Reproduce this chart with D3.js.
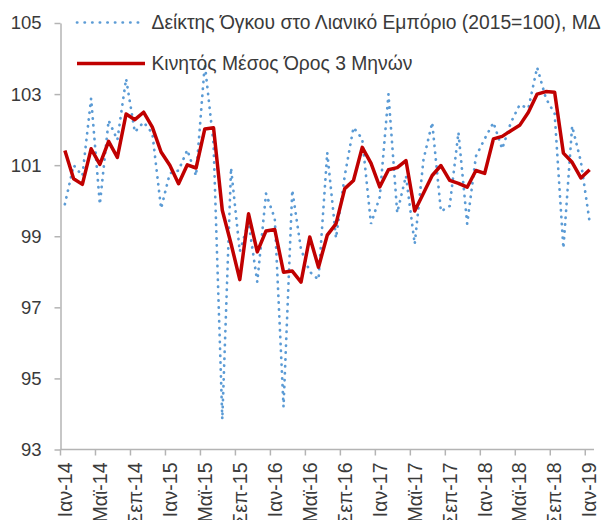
<!DOCTYPE html>
<html>
<head>
<meta charset="utf-8">
<script src="https://cdn.jsdelivr.net/npm/d3@7"></script>
<style>
  body { margin: 0; background: #fff; }
  svg { display: block; font-family: "Liberation Sans", Arial, sans-serif; }
</style>
</head>
<body>
<svg id="svg"></svg>
<script>
// months Jan-14 .. Jan-19
const categories = [
    "Ιαν-14","Φεβ-14","Μαρ-14","Απρ-14","Μαϊ-14","Ιουν-14","Ιουλ-14","Αυγ-14","Σεπ-14","Οκτ-14","Νοε-14","Δεκ-14",
    "Ιαν-15","Φεβ-15","Μαρ-15","Απρ-15","Μαϊ-15","Ιουν-15","Ιουλ-15","Αυγ-15","Σεπ-15","Οκτ-15","Νοε-15","Δεκ-15",
    "Ιαν-16","Φεβ-16","Μαρ-16","Απρ-16","Μαϊ-16","Ιουν-16","Ιουλ-16","Αυγ-16","Σεπ-16","Οκτ-16","Νοε-16","Δεκ-16",
    "Ιαν-17","Φεβ-17","Μαρ-17","Απρ-17","Μαϊ-17","Ιουν-17","Ιουλ-17","Αυγ-17","Σεπ-17","Οκτ-17","Νοε-17","Δεκ-17",
    "Ιαν-18","Φεβ-18","Μαρ-18","Απρ-18","Μαϊ-18","Ιουν-18","Ιουλ-18","Αυγ-18","Σεπ-18","Οκτ-18","Νοε-18","Δεκ-18",
    "Ιαν-19"
];

// Δείκτης Όγκου στο Λιανικό Εμπόριο (2015=100), ΜΔ
const volumeIndex = [
    99.9, 101.0, 100.7, 102.88, 99.9, 102.26, 101.71, 103.43, 101.93, 102.21, 101.9, 99.78,
    100.77, 100.85, 101.43, 100.7, 103.85, 101.6, 93.85, 100.92, 98.57, 99.4, 97.71, 100.2,
    99.5, 94.2, 100.3, 98.63, 98.0, 97.78, 101.35, 98.95, 100.7, 102.06, 101.74, 99.35,
    100.1, 103.0, 99.66, 100.7, 98.78, 101.15, 102.2, 99.7, 99.85, 101.92, 99.35, 101.25,
    101.74, 102.2, 101.46, 102.2, 102.7, 102.6, 103.75, 102.88, 102.45, 98.66, 102.1, 101.1,
    99.4
];

// Κινητός Μέσος Όρος 3 Μηνών
const movingAverage = [
    101.41, 100.62, 100.46, 101.46, 101.02, 101.67, 101.22, 102.44, 102.28, 102.49, 102.07, 101.37,
    101.0, 100.48, 101.01, 100.92, 102.02, 102.05, 99.73, 98.79, 97.78, 99.63, 98.56, 99.15,
    99.19, 97.99, 98.02, 97.71, 98.98, 98.13, 99.03, 99.35, 100.34, 100.57, 101.5, 101.06,
    100.39, 100.87, 100.93, 101.13, 99.71, 100.21, 100.71, 100.99, 100.57, 100.49, 100.38, 100.85,
    100.77, 101.74, 101.81, 101.97, 102.12, 102.49, 103.0, 103.07, 103.05, 101.34, 101.08, 100.64,
    100.87
];

const yTicks = [93, 95, 97, 99, 101, 103, 105];
const xTickLabels = ["Ιαν-14","Μαϊ-14","Σεπ-14","Ιαν-15","Μαϊ-15","Σεπ-15","Ιαν-16","Μαϊ-16",
    "Σεπ-16","Ιαν-17","Μαϊ-17","Σεπ-17","Ιαν-18","Μαϊ-18","Σεπ-18","Ιαν-19"];

const seriesNames = ["Δείκτης Όγκου στο Λιανικό Εμπόριο (2015=100), ΜΔ", "Κινητός Μέσος Όρος 3 Μηνών"];

const width = 611;
const height = 520;
const textColor = "#3a3a3a";
const axisColor = "#b4b4b4";
const blue = "#5b9bd5";
const red = "#c00000";

let svg = d3.select("#svg");
let xScale;
let yScale;

function initializeSVG() {
    svg.attr("width", width).attr("height", height);

    // plot area edges
    const plot = { left: 60.5, right: 594, top: 23, bottom: 449.5 };

    xScale = d3.scaleBand()
        .domain(categories)
        .range([plot.left, plot.right])
        .padding(0);

    yScale = d3.scaleLinear()
        .domain([93, 105])
        .range([plot.bottom, plot.top]);

    // y axis
    const yAxis = svg.append("g")
        .attr("class", "y-axis")
        .attr("transform", `translate(${plot.left},0)`)
        .call(d3.axisLeft(yScale).tickValues(yTicks).tickSize(6).tickSizeOuter(0).tickPadding(13));
    yAxis.select(".domain").attr("stroke", axisColor).attr("stroke-width", 1.5);
    yAxis.selectAll(".tick line").attr("stroke", axisColor).attr("stroke-width", 1.5);
    yAxis.selectAll(".tick text")
        .attr("fill", textColor)
        .style("font-size", "18.5px");

    // x axis: ticks on category boundaries every 4 months, labels on the centres
    const xAxis = svg.append("g")
        .attr("class", "x-axis");
    xAxis.append("line")
        .attr("x1", plot.left)
        .attr("x2", plot.right)
        .attr("y1", plot.bottom)
        .attr("y2", plot.bottom)
        .attr("stroke", axisColor)
        .attr("stroke-width", 1.5);
    xAxis.selectAll(".x-tick")
        .data(xTickLabels)
        .enter().append("line")
        .attr("class", "x-tick")
        .attr("x1", d => xScale(d))
        .attr("x2", d => xScale(d))
        .attr("y1", plot.bottom)
        .attr("y2", plot.bottom + 6)
        .attr("stroke", axisColor)
        .attr("stroke-width", 1.5);
    xAxis.selectAll(".x-label")
        .data(xTickLabels)
        .enter().append("text")
        .attr("class", "x-label")
        .attr("transform", d => `translate(${xScale(d) + xScale.bandwidth() / 2},${plot.bottom + 13}) rotate(-90)`)
        .attr("text-anchor", "end")
        .attr("dy", "0.35em")
        .attr("fill", textColor)
        .style("font-size", "19.5px")
        .text(d => d);
}

function drawLines() {
    const line = d3.line()
        .x((d, i) => xScale(categories[i]) + xScale.bandwidth() / 2)
        .y(d => yScale(d));

    svg.append("path")
        .datum(volumeIndex)
        .attr("fill", "none")
        .attr("stroke", blue)
        .attr("stroke-width", 2.7)
        .attr("stroke-linecap", "round")
        .attr("stroke-dasharray", "0.3 6.6")
        .attr("d", line);

    svg.append("path")
        .datum(movingAverage)
        .attr("fill", "none")
        .attr("stroke", red)
        .attr("stroke-width", 3.5)
        .attr("stroke-linejoin", "round")
        .attr("d", line);
}

function drawLegend() {
    const legend = svg.append("g").attr("class", "legend");
    const rows = [
        { name: seriesNames[0], y: 22.5, color: blue, width: 2.7, dash: "0.3 7.3" },
        { name: seriesNames[1], y: 63.5, color: red, width: 3.5, dash: null }
    ];
    rows.forEach(r => {
        legend.append("line")
            .attr("x1", 77)
            .attr("x2", 145)
            .attr("y1", r.y)
            .attr("y2", r.y)
            .attr("stroke", r.color)
            .attr("stroke-width", r.width)
            .attr("stroke-linecap", r.dash ? "round" : "butt")
            .attr("stroke-dasharray", r.dash);
        legend.append("text")
            .attr("x", 151.5)
            .attr("y", r.y)
            .attr("dy", "0.35em")
            .attr("fill", textColor)
            .style("font-size", "19.3px")
            .text(r.name);
    });
}

initializeSVG();
drawLines();
drawLegend();
</script>
</body>
</html>
